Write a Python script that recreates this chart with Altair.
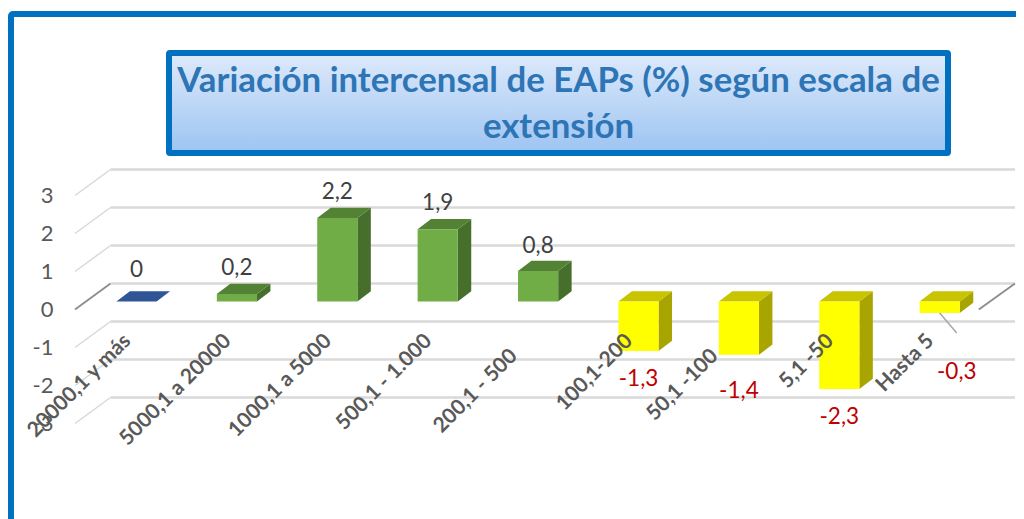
import altair as alt
import pandas as pd

categories = ["20000,1 y más", "5000,1 a 20000", "1000,1 a 5000", "500,1 - 1.000", "200,1 - 500",
              "100,1-200", "50,1 -100", "5,1 -50", "Hasta 5"]
values = [0, 0.2, 2.2, 1.9, 0.8, -1.3, -1.4, -2.3, -0.3]
value_labels = ["0", "0,2", "2,2", "1,9", "0,8", "-1,3", "-1,4", "-2,3", "-0,3"]
label_gap = [0.82, 0.68, 0.68, 0.68, 0.66, -0.74, -0.95, -0.74, -1.55]
label_shift = [0, 0, 0, 0, 0, 0, 0, 0, 0.17]
cat_label_drop = [0, 0, 0, 0, 1, 0, 1, 0, 0]
y_ticks = [-3, -2, -1, 0, 1, 2, 3]
title_lines = ["Variación intercensal de EAPs (%) según escala de", "extensión"]

W, H = 1008, 511
X_DOM = [-1.2799, 8.76]
Y_DOM = [-5.513, 7.934]
BAR_FRONT = 0.21      # bars' front plane, above the wall's front edge
WALL_BACK = 0.684     # back wall, above the wall's front edge
HALF = 0.2
DX, DY = 0.134, 0.27
FONT = "Lato"

sx = alt.Scale(domain=X_DOM, nice=False, zero=False)
sy = alt.Scale(domain=Y_DOM, nice=False, zero=False)
y_axis_def = alt.Axis(values=y_ticks, title=None, domain=False, ticks=False, grid=False,
                      offset=-45, labelPadding=0, labelFont=FONT, labelFontSize=22,
                      labelColor="#595959", labelExpr="datum.value + ''", zindex=1)
X = lambda f="x": alt.X(f"{f}:Q", scale=sx, axis=None)
Y = lambda f="y": alt.Y(f"{f}:Q", scale=sy, axis=y_axis_def, stack=False)

one = pd.DataFrame({"a": [0]})

frame = alt.Chart(one).mark_rect(fillOpacity=0, stroke="#0070c0", strokeWidth=6, cornerRadius=2).encode(
    x=alt.value(3), x2=alt.value(1200), y=alt.value(6), y2=alt.value(800))

gradient = alt.LinearGradient(gradient="linear", x1=0, x2=0, y1=0, y2=1,
                              stops=[alt.GradientStop(color="#deeafb", offset=0),
                                     alt.GradientStop(color="#9dc4f2", offset=1)])
title_box = alt.Chart(one).mark_rect(fill=gradient, stroke="#0070c0", strokeWidth=6, cornerRadius=1).encode(
    x=alt.value(161), x2=alt.value(940), y=alt.value(45), y2=alt.value(145))

# wall: grid lines
grid_rows, diag_rows, zero_rows = [], [], []
for v in y_ticks:
    grid_rows += [{"id": v, "x": -0.259, "y": v + WALL_BACK}, {"id": v, "x": 8.75, "y": v + WALL_BACK}]
    if v == 0:
        zero_rows += [{"id": "l", "x": -0.6125, "y": v}, {"id": "l", "x": -0.259, "y": v + WALL_BACK},
                      {"id": "r", "x": 8.39, "y": v}, {"id": "r", "x": 8.75, "y": v + WALL_BACK}]
    else:
        diag_rows += [{"id": v, "x": -0.6125, "y": v}, {"id": v, "x": -0.259, "y": v + WALL_BACK}]

grid = alt.Chart(pd.DataFrame(grid_rows)).mark_line(color="#d9d9d9", strokeWidth=2.5).encode(
    x=X(), y=Y(), detail="id:N")
diag = alt.Chart(pd.DataFrame(diag_rows)).mark_line(color="#d9d9d9", strokeWidth=1.5).encode(
    x=X(), y=Y(), detail="id:N")
zero_diag = alt.Chart(pd.DataFrame(zero_rows)).mark_line(color="#8c8c8c", strokeWidth=1.8).encode(
    x=X(), y=Y(), detail="id:N")

# bars
def palette(v):
    if v > 0:
        return "#70ad47", "#548235", "#476f2c"
    if v < 0:
        return "#ffff00", "#c8c400", "#a9a500"
    return "#2f5597", "#2f5597", "#2f5597"

front_rows, face_rows = [], []
for i, v in enumerate(values):
    front, top_c, side_c = palette(v)
    l, r = i - HALF, i + HALF
    t, b = max(v, 0) + BAR_FRONT, min(v, 0) + BAR_FRONT
    if t != b:
        front_rows.append({"x": l, "x2": r, "y": t, "y2": b, "c": front})
        face_rows += [{"id": f"s{i}", "x": r, "y": t, "y2": b, "c": side_c},
                      {"id": f"s{i}", "x": r + DX, "y": t + DY, "y2": b + DY, "c": side_c}]
    face_rows += [{"id": f"t{i}", "x": l, "y": t, "y2": t, "c": top_c},
                  {"id": f"t{i}", "x": l + DX, "y": t + DY, "y2": t, "c": top_c},
                  {"id": f"t{i}", "x": r, "y": t + DY, "y2": t, "c": top_c},
                  {"id": f"t{i}", "x": r + DX, "y": t + DY, "y2": t + DY, "c": top_c}]

faces = alt.Chart(pd.DataFrame(face_rows)).mark_area(interpolate="linear", orient="vertical").encode(
    x=X(), y=Y(), y2="y2:Q", color=alt.Color("c:N", scale=None), detail="id:N")
fronts = alt.Chart(pd.DataFrame(front_rows)).mark_rect().encode(
    x=X(), x2="x2:Q", y=Y(), y2="y2:Q", color=alt.Color("c:N", scale=None))

# leader line of the last label
leader = alt.Chart(pd.DataFrame({"x": [8.0, 8.17], "y": [-0.09, -0.618]})).mark_line(
    color="#a6a6a6", strokeWidth=1.5).encode(x=X(), y=Y())

# value labels
lab_df = pd.DataFrame({
    "x": [i + s for i, s in enumerate(label_shift)],
    "y": [(max(v, 0) if g > 0 else min(v, 0)) + BAR_FRONT + g for v, g in zip(values, label_gap)],
    "t": value_labels,
    "c": ["#c00000" if v < 0 else "#404040" for v in values],
})
val_text = alt.Chart(lab_df).mark_text(font=FONT, fontSize=22.5, baseline="middle", align="center").encode(
    x=X(), y=Y(), text="t:N", color=alt.Color("c:N", scale=None))

# category labels
cat_df = pd.DataFrame({
    "x": [i - 0.09 - 0.15 * d for i, d in enumerate(cat_label_drop)],
    "y": [-0.75 - 0.395 * d for d in cat_label_drop],
    "t": categories,
})
cat_text = alt.Chart(cat_df).mark_text(font=FONT, fontSize=21, fontWeight="bold", color="#595959",
                                       angle=315, align="right", baseline="middle").encode(
    x=X(), y=Y(), text="t:N")

chart = alt.layer(frame, title_box, grid, diag, zero_diag, faces, fronts, leader, val_text, cat_text).properties(
    width=W, height=H, padding=0, autosize=alt.AutoSizeParams(type="none"),
    title=alt.TitleParams(text=title_lines, font=FONT, fontSize=34.8, fontWeight="bold", color="#2e75b6",
                          anchor="middle", frame="group", dx=46.5, dy=165, lineHeight=46, baseline="alphabetic", offset=0),
).configure_view(stroke=None)

chart.save("out.html", embed_options={"renderer": "svg", "actions": False})
